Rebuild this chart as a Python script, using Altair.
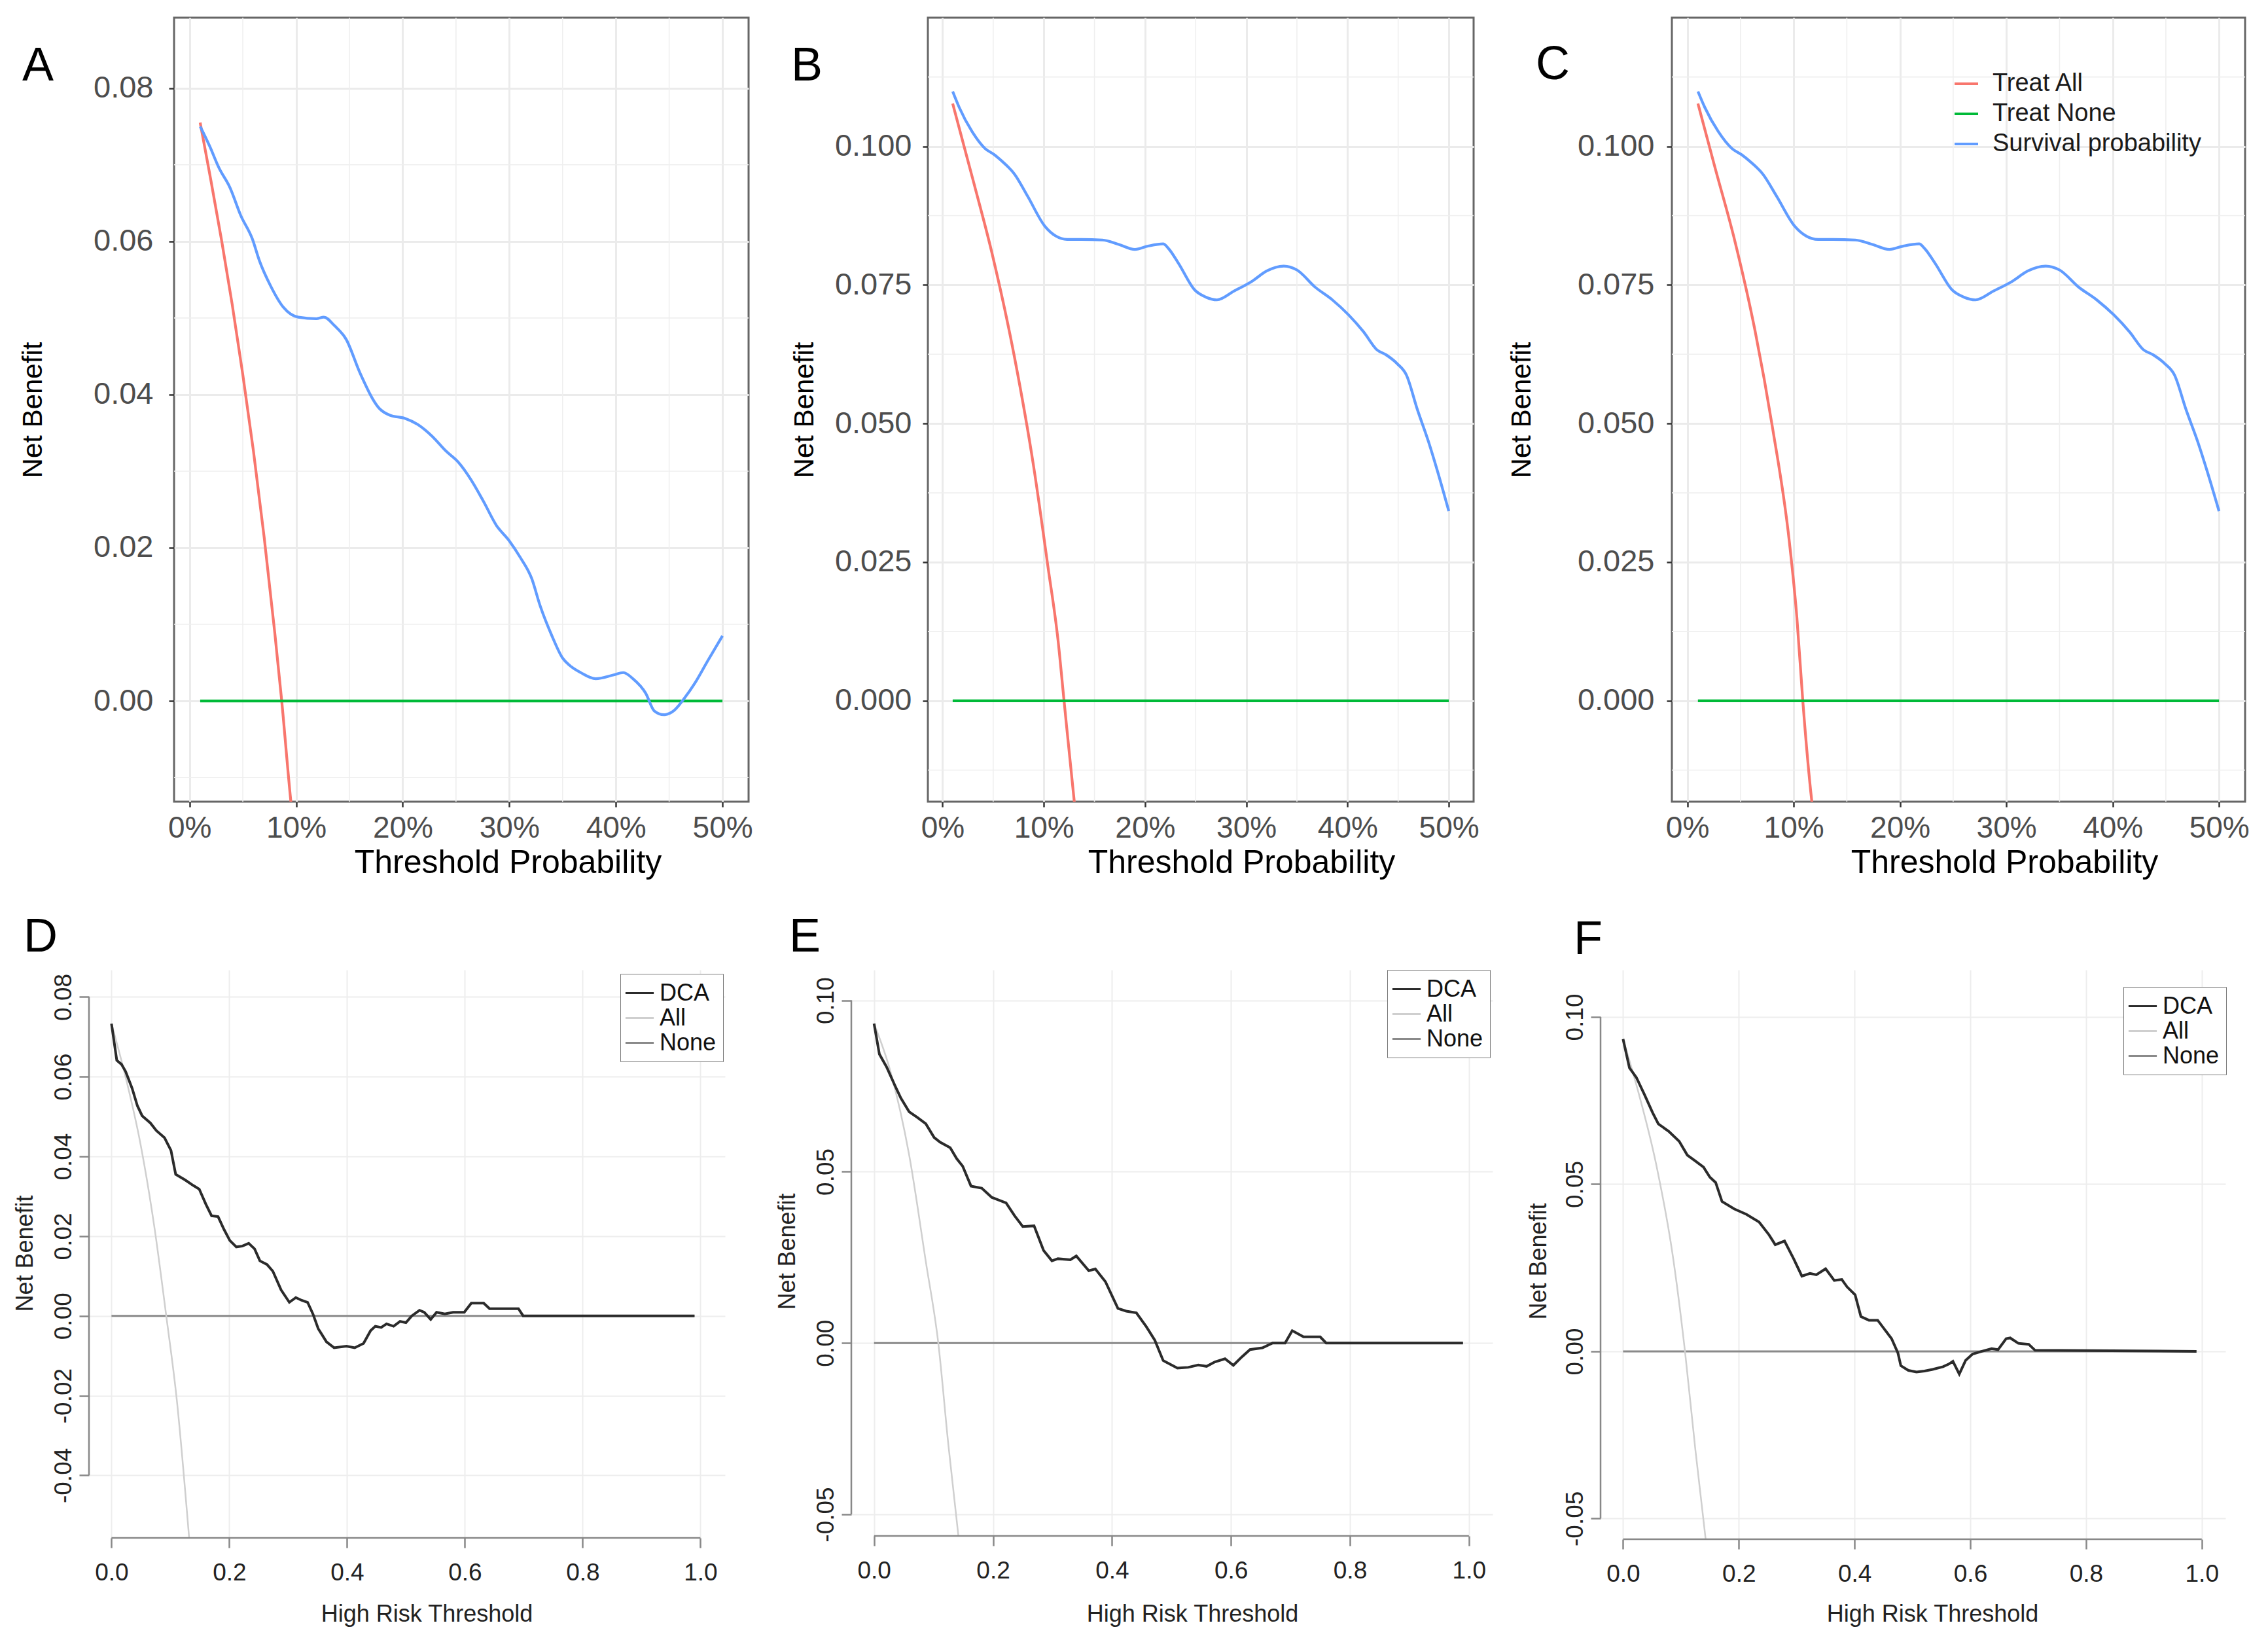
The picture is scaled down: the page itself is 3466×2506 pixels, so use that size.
import altair as alt
import pandas as pd

FONT = "Liberation Sans"

# ---------------- Panel A (ggplot DCA) ----------------
a_all_x = [0.01, 0.02, 0.03, 0.04, 0.05, 0.06, 0.07, 0.08, 0.0865, 0.095, 0.0956]
a_all_y = [0.0755, 0.0680, 0.0602, 0.0518, 0.0426, 0.0326, 0.0214, 0.0089, 0.0000, -0.0130, -0.0138]
a_none_x = [0.01, 0.50]
a_none_y = [0.0, 0.0]
a_surv_x = [0.010, 0.019, 0.0276, 0.038, 0.048, 0.059, 0.0655, 0.076, 0.088, 0.102, 0.119, 0.126,
            0.136, 0.147, 0.160, 0.178, 0.188, 0.202, 0.214, 0.228, 0.240, 0.252, 0.264, 0.276,
            0.288, 0.300, 0.310, 0.321, 0.329, 0.340, 0.350, 0.357, 0.367, 0.381, 0.398, 0.407,
            0.416, 0.428, 0.436, 0.445, 0.455, 0.464, 0.474, 0.486, 0.500]
a_surv_y = [0.0750, 0.0724, 0.0696, 0.0670, 0.0634, 0.0603, 0.0575, 0.0542, 0.0514, 0.0501, 0.0499, 0.0501,
            0.0490, 0.0472, 0.0428, 0.0382, 0.0373, 0.0369, 0.0361, 0.0345, 0.0327, 0.0312, 0.0289, 0.0260,
            0.0229, 0.0209, 0.0188, 0.0160, 0.0124, 0.0085, 0.0056, 0.0046, 0.0037, 0.0029, 0.0034, 0.0037,
            0.0029, 0.0010, -0.0013, -0.0018, -0.0012, 0.0003, 0.0023, 0.0052, 0.0085]

# ---------------- Panel B ----------------
b_all_x = [0.01, 0.031, 0.049, 0.071, 0.090, 0.104, 0.114, 0.120, 0.130, 0.1306]
b_all_y = [0.1077, 0.0933, 0.0806, 0.0620, 0.0422, 0.0243, 0.0110, 0.0000, -0.0180, -0.0190]
b_none_x = [0.01, 0.50]
b_none_y = [0.0, 0.0]
b_surv_x = [0.010, 0.0165, 0.029, 0.042, 0.051, 0.060, 0.071, 0.084, 0.101, 0.112, 0.123, 0.137, 0.158,
            0.174, 0.190, 0.203, 0.218, 0.223, 0.233, 0.249, 0.260, 0.271, 0.288, 0.306, 0.320, 0.337,
            0.350, 0.368, 0.385, 0.401, 0.416, 0.429, 0.438, 0.449, 0.458, 0.469, 0.480, 0.489, 0.500]
b_surv_y = [0.1099, 0.1070, 0.1027, 0.0996, 0.0985, 0.0971, 0.0950, 0.0910, 0.0856, 0.0838, 0.0832, 0.0832, 0.0831,
            0.0823, 0.0814, 0.0820, 0.0824, 0.0816, 0.0789, 0.0741, 0.0728, 0.0723, 0.0739, 0.0757, 0.0775, 0.0784,
            0.0777, 0.0746, 0.0723, 0.0696, 0.0665, 0.0633, 0.0624, 0.0608, 0.0588, 0.0525, 0.0467, 0.0413, 0.0342]

# ---------------- Panel C ----------------
c_all_x = [0.01, 0.026, 0.045, 0.063, 0.080, 0.096, 0.103, 0.1086, 0.117, 0.1176]
c_all_y = [0.1077, 0.0962, 0.0827, 0.0674, 0.0494, 0.0286, 0.0151, 0.0000, -0.0180, -0.0190]
c_none_x = [0.01, 0.50]
c_none_y = [0.0, 0.0]
c_surv_x = [0.010, 0.0165, 0.029, 0.042, 0.051, 0.060, 0.071, 0.084, 0.101, 0.112, 0.123, 0.137, 0.158,
            0.174, 0.190, 0.203, 0.218, 0.223, 0.233, 0.249, 0.260, 0.271, 0.288, 0.306, 0.320, 0.337,
            0.350, 0.368, 0.385, 0.401, 0.416, 0.429, 0.438, 0.449, 0.458, 0.469, 0.480, 0.489, 0.500]
c_surv_y = [0.1099, 0.1070, 0.1027, 0.0996, 0.0985, 0.0971, 0.0950, 0.0910, 0.0856, 0.0838, 0.0832, 0.0832, 0.0831,
            0.0823, 0.0814, 0.0820, 0.0824, 0.0816, 0.0789, 0.0741, 0.0728, 0.0723, 0.0739, 0.0757, 0.0775, 0.0784,
            0.0777, 0.0746, 0.0723, 0.0696, 0.0665, 0.0633, 0.0624, 0.0608, 0.0588, 0.0525, 0.0467, 0.0413, 0.0342]

# ---------------- Panel D (rmda style) ----------------
d_dca_x = [0.000, 0.009, 0.017, 0.024, 0.035, 0.044, 0.052, 0.066, 0.076, 0.090, 0.101, 0.109, 0.125, 0.139,
           0.149, 0.160, 0.170, 0.181, 0.191, 0.201, 0.212, 0.222, 0.233, 0.243, 0.252, 0.264, 0.274, 0.288,
           0.302, 0.313, 0.323, 0.333, 0.342, 0.351, 0.365, 0.378, 0.399, 0.413, 0.428, 0.440, 0.448, 0.458,
           0.467, 0.479, 0.490, 0.500, 0.510, 0.523, 0.531, 0.542, 0.552, 0.566, 0.580, 0.599, 0.611, 0.632,
           0.642, 0.691, 0.699, 0.990]
d_dca_y = [0.0733, 0.0641, 0.0631, 0.0613, 0.0571, 0.0527, 0.0502, 0.0484, 0.0465, 0.0447, 0.0415, 0.0355, 0.0341, 0.0327,
           0.0318, 0.0281, 0.0251, 0.0249, 0.0217, 0.0189, 0.0173, 0.0175, 0.0182, 0.0168, 0.0138, 0.0129, 0.0112, 0.0065,
           0.0034, 0.0046, 0.0039, 0.0034, 0.0005, -0.0032, -0.0065, -0.0080, -0.0076, -0.0080, -0.0069, -0.0037, -0.0026, -0.0029,
           -0.0020, -0.0026, -0.0014, -0.0017, 0.0000, 0.0014, 0.0009, -0.0009, 0.0009, 0.0005, 0.0009, 0.0009, 0.0032, 0.0032,
           0.0018, 0.0018, 0.0000, 0.0000]
d_all_x = [0.0, 0.024, 0.049, 0.073, 0.093, 0.111, 0.132]
d_all_y = [0.0733, 0.0599, 0.0433, 0.0221, 0.0000, -0.0212, -0.0560]
d_none_x = [0.0, 0.99]
d_none_y = [0.0, 0.0]

# ---------------- Panel E ----------------
e_dca_x = [0.000, 0.009, 0.021, 0.035, 0.045, 0.059, 0.073, 0.087, 0.101, 0.111, 0.128, 0.139, 0.149, 0.163,
           0.181, 0.198, 0.222, 0.236, 0.250, 0.269, 0.285, 0.299, 0.309, 0.330, 0.340, 0.361, 0.372, 0.389,
           0.410, 0.424, 0.441, 0.458, 0.472, 0.486, 0.510, 0.528, 0.545, 0.559, 0.573, 0.590, 0.604, 0.618,
           0.632, 0.653, 0.670, 0.691, 0.703, 0.722, 0.750, 0.760, 0.990]
e_dca_y = [0.0932, 0.0843, 0.0806, 0.0752, 0.0715, 0.0675, 0.0658, 0.0640, 0.0600, 0.0586, 0.0570, 0.0538, 0.0516, 0.0458,
           0.0452, 0.0425, 0.0409, 0.0372, 0.0340, 0.0342, 0.0270, 0.0240, 0.0246, 0.0243, 0.0254, 0.0211, 0.0216, 0.0179,
           0.0101, 0.0093, 0.0088, 0.0047, 0.0008, -0.0051, -0.0073, -0.0071, -0.0064, -0.0068, -0.0055, -0.0046, -0.0065, -0.0041,
           -0.0019, -0.0014, 0.0000, 0.0000, 0.0036, 0.0018, 0.0018, 0.0000, 0.0000]
e_all_x = [0.0, 0.028, 0.059, 0.087, 0.108, 0.125, 0.142]
e_all_y = [0.0932, 0.0790, 0.0549, 0.0238, 0.0000, -0.0298, -0.0566]
e_none_x = [0.0, 0.99]
e_none_y = [0.0, 0.0]

# ---------------- Panel F ----------------
f_dca_x = [0.000, 0.011, 0.023, 0.037, 0.051, 0.061, 0.079, 0.097, 0.111, 0.125, 0.139, 0.150, 0.160, 0.171,
           0.192, 0.213, 0.235, 0.252, 0.263, 0.279, 0.295, 0.309, 0.323, 0.334, 0.350, 0.365, 0.378, 0.387,
           0.401, 0.411, 0.425, 0.440, 0.450, 0.464, 0.475, 0.480, 0.493, 0.507, 0.521, 0.535, 0.553, 0.563,
           0.570, 0.581, 0.592, 0.604, 0.620, 0.637, 0.648, 0.662, 0.669, 0.683, 0.701, 0.712, 0.991]
f_dca_y = [0.0934, 0.0848, 0.0819, 0.0768, 0.0714, 0.0680, 0.0658, 0.0628, 0.0587, 0.0569, 0.0551, 0.0521, 0.0505, 0.0448,
           0.0426, 0.0410, 0.0387, 0.0349, 0.0319, 0.0330, 0.0276, 0.0225, 0.0233, 0.0229, 0.0247, 0.0212, 0.0215, 0.0193,
           0.0169, 0.0104, 0.0093, 0.0093, 0.0070, 0.0038, -0.0005, -0.0043, -0.0057, -0.0062, -0.0059, -0.0054, -0.0046, -0.0038,
           -0.0030, -0.0068, -0.0027, -0.0008, 0.0000, 0.0008, 0.0005, 0.0038, 0.0040, 0.0024, 0.0021, 0.0003, 0.0000]
f_all_x = [0.0, 0.026, 0.058, 0.086, 0.107, 0.125, 0.143]
f_all_y = [0.0934, 0.0778, 0.0553, 0.0285, 0.0000, -0.0295, -0.0566]
f_none_x = [0.0, 0.99]
f_none_y = [0.0, 0.0]

# ---------------- categories, ticks, colours ----------------
SERIES_TOP = ["Treat All", "Treat None", "Survival probability"]
COLORS_TOP = ["#F8766D", "#00BA38", "#619CFF"]
SERIES_BOT = ["DCA", "All", "None"]
COLORS_BOT = ["#2B2B2B", "#CFCFCF", "#8A8A8A"]

TOP_XDOM = [-0.0145, 0.5245]
TOP_XMAJOR = [0.0, 0.1, 0.2, 0.3, 0.4, 0.5]
TOP_XMINOR = [0.05, 0.15, 0.25, 0.35, 0.45]
A_YDOM = [-0.01315, 0.0892]
A_YMAJOR = [0.0, 0.02, 0.04, 0.06, 0.08]
A_YMINOR = [-0.01, 0.01, 0.03, 0.05, 0.07]
BC_YDOM = [-0.0182, 0.1232]
BC_YMAJOR = [0.0, 0.025, 0.05, 0.075, 0.1]
BC_YMINOR = [-0.0125, 0.0125, 0.0375, 0.0625, 0.0875, 0.1125]

BOT_XVALS = [0.0, 0.2, 0.4, 0.6, 0.8, 1.0]
BOT_XLINE = [0.0, 1.0]
D_YVALS = [-0.04, -0.02, 0.0, 0.02, 0.04, 0.06, 0.08]
D_YLINE = [-0.04, 0.08]
EF_YVALS = [-0.05, 0.0, 0.05, 0.10]
EF_YLINE = [-0.05, 0.10]

TOP_H = 1198
ROW_GAP = 257


def spacer(w, h):
    return alt.Chart(pd.DataFrame({"s": [0]})).mark_point(opacity=0).encode(
        x=alt.X("s:Q", axis=None), y=alt.Y("s:Q", axis=None)
    ).properties(width=w, height=h)


def letter(text, px, py):
    return alt.Chart(pd.DataFrame({"t": [text]})).mark_text(
        align="left", baseline="alphabetic", fontSize=72, font=FONT, color="#000000"
    ).encode(text="t:N", x=alt.value(px), y=alt.value(py))


def top_panel(name, series, ydom, ymajor, yminor, yfmt, width, ytx, xtx, lxy, ypad, legend_xy=None):
    df = pd.concat([pd.DataFrame({"x": xs, "y": ys, "series": s}) for s, xs, ys in series],
                   ignore_index=True)
    xscale = alt.Scale(domain=TOP_XDOM, nice=False, zero=False)
    yscale = alt.Scale(domain=ydom, nice=False, zero=False)
    xaxis = alt.Axis(
        values=TOP_XMAJOR, format=".0%",
        domain=False, grid=True, gridColor="#EBEBEB", gridWidth=3,
        tickColor="#333333", tickWidth=2.5, tickSize=8,
        labelFont=FONT, labelFontSize=46, labelColor="#4D4D4D", labelPadding=10,
        labelFlush=False, labelOverlap=False,
        title="Threshold Probability", titleFont=FONT, titleFontSize=50, titleFontWeight="normal",
        titleColor="#000000", titleX=xtx, titleY=93, titleAlign="center", titleBaseline="middle",
    )
    yaxis = alt.Axis(
        values=ymajor, format=yfmt,
        domain=False, grid=True, gridColor="#EBEBEB", gridWidth=3,
        tickColor="#333333", tickWidth=2.5, tickSize=8,
        labelFont=FONT, labelFontSize=47, labelColor="#4D4D4D", labelPadding=ypad,
        labelOverlap=False,
        title="Net Benefit", titleFont=FONT, titleFontSize=42, titleFontWeight="normal",
        titleColor="#000000", titleX=ytx, titleY=599, titleAngle=270, titleAlign="center",
        titleBaseline="middle",
    )
    if legend_xy is not None:
        legend = alt.Legend(orient="none", legendX=legend_xy[0], legendY=legend_xy[1], title=None,
                            labelFont=FONT, labelFontSize=38, labelColor="#1A1A1A", labelLimit=2000,
                            symbolType="stroke", symbolSize=1296, symbolStrokeWidth=4,
                            labelOffset=20, rowPadding=7, padding=0)
    else:
        legend = None

    vminor = alt.Chart(pd.DataFrame({"x": TOP_XMINOR})).mark_rule(color="#EFEFEF", strokeWidth=1.6).encode(
        x=alt.X("x:Q", scale=xscale, axis=xaxis))
    hminor = alt.Chart(pd.DataFrame({"y": yminor})).mark_rule(color="#EFEFEF", strokeWidth=1.6).encode(
        y=alt.Y("y:Q", scale=yscale, axis=yaxis))
    lines = alt.Chart(df).mark_line(strokeWidth=4.2, clip=True, interpolate="monotone").encode(
        x=alt.X("x:Q", scale=xscale, axis=xaxis),
        y=alt.Y("y:Q", scale=yscale, axis=yaxis),
        color=alt.Color("series:N", scale=alt.Scale(domain=SERIES_TOP, range=COLORS_TOP), legend=legend),
    )
    return alt.layer(vminor, hminor, lines, letter(name, lxy[0], lxy[1])).properties(
        width=width, height=TOP_H,
        view=alt.ViewBackground(stroke="#666666", strokeWidth=3),
    )


def bottom_panel(name, dca, allc, nonec, xdom, ydom, yvals, yline, width, height,
                 ytitle, xtitle, legend_xy, lxy):
    xscale = alt.Scale(domain=xdom, nice=False, zero=False)
    yscale = alt.Scale(domain=ydom, nice=False, zero=False)
    xaxis = alt.Axis(
        values=BOT_XVALS, format=".1f", domain=False, grid=True, gridColor="#EDEDED", gridWidth=2,
        tickColor="#888888", tickWidth=2.5, tickSize=15,
        labelFont=FONT, labelFontSize=37, labelColor="#222222", labelPadding=20,
        labelFlush=False, labelOverlap=False,
        title="High Risk Threshold", titleFont=FONT, titleFontSize=36, titleFontWeight="normal",
        titleColor="#222222", titleX=xtitle[0], titleY=xtitle[1], titleAlign="center",
        titleBaseline="middle",
    )
    yaxis = alt.Axis(
        values=yvals,
        labelExpr="datum.value < 0 ? '-' + format(-datum.value, '.2f') : format(datum.value, '.2f')",
        domain=False, grid=True, gridColor="#EDEDED", gridWidth=2,
        tickColor="#888888", tickWidth=2.5, tickSize=15,
        labelFont=FONT, labelFontSize=37, labelColor="#222222", labelPadding=13,
        labelAngle=270, labelAlign="center", labelBaseline="alphabetic", labelOverlap=False,
        title="Net Benefit", titleFont=FONT, titleFontSize=36, titleFontWeight="normal",
        titleColor="#222222", titleX=ytitle[0], titleY=ytitle[1], titleAngle=270,
        titleAlign="center", titleBaseline="middle",
    )
    legend = alt.Legend(orient="none", legendX=legend_xy[0], legendY=legend_xy[1], title=None,
                        strokeColor="#777777", fillColor="#FFFFFF", padding=10,
                        labelFont=FONT, labelFontSize=36, labelColor="#111111", labelLimit=2000,
                        symbolType="M-1.2,0H1.2", symbolSize=1296, symbolStrokeWidth=3,
                        labelOffset=11, rowPadding=-3)
    color = alt.Color("series:N", scale=alt.Scale(domain=SERIES_BOT, range=COLORS_BOT), legend=legend)

    def line(xs, ys, s, sw, interp):
        df = pd.DataFrame({"x": xs, "y": ys, "series": s})
        return alt.Chart(df).mark_line(strokeWidth=sw, clip=True, interpolate=interp).encode(
            x=alt.X("x:Q", scale=xscale, axis=xaxis),
            y=alt.Y("y:Q", scale=yscale, axis=yaxis),
            color=color,
        )

    xrule = alt.Chart(pd.DataFrame({"x": [BOT_XLINE[0]], "x2": [BOT_XLINE[1]], "y": [ydom[0]]})).mark_rule(
        color="#888888", strokeWidth=2.5).encode(
        x=alt.X("x:Q", scale=xscale, axis=xaxis), x2="x2:Q",
        y=alt.Y("y:Q", scale=yscale, axis=yaxis))
    yrule = alt.Chart(pd.DataFrame({"x": [xdom[0]], "y": [yline[0]], "y2": [yline[1]]})).mark_rule(
        color="#888888", strokeWidth=2.5).encode(
        x=alt.X("x:Q", scale=xscale, axis=xaxis),
        y=alt.Y("y:Q", scale=yscale, axis=yaxis), y2="y2:Q")

    return alt.layer(
        line(nonec[0], nonec[1], "None", 3, "linear"),
        line(allc[0], allc[1], "All", 2.5, "monotone"),
        line(dca[0], dca[1], "DCA", 4, "linear"),
        xrule, yrule, letter(name, lxy[0], lxy[1]),
    ).properties(width=width, height=height)


pa = top_panel("A", [("Treat All", a_all_x, a_all_y), ("Treat None", a_none_x, a_none_y),
                     ("Survival probability", a_surv_x, a_surv_y)],
               A_YDOM, A_YMAJOR, A_YMINOR, ".2f", 878, -216, 510, (-232, 96), 24)
pb = top_panel("B", [("Treat All", b_all_x, b_all_y), ("Treat None", b_none_x, b_none_y),
                     ("Survival probability", b_surv_x, b_surv_y)],
               BC_YDOM, BC_YMAJOR, BC_YMINOR, ".3f", 834, -189, 479, (-209, 96), 17)
pc = top_panel("C", [("Treat All", c_all_x, c_all_y), ("Treat None", c_none_x, c_none_y),
                     ("Survival probability", c_surv_x, c_surv_y)],
               BC_YDOM, BC_YMAJOR, BC_YMINOR, ".3f", 876, -230, 508, (-208, 94), 19, legend_xy=(430, 81))

pd_ = bottom_panel("D", (d_dca_x, d_dca_y), (d_all_x, d_all_y), (d_none_x, d_none_y),
                   [-0.0382, 1.0418], [-0.0557, 0.0868], D_YVALS, D_YLINE, 972, 868,
                   (-98, 433), (516, 116), (812, 6), (-100, -28))
pe = bottom_panel("E", (e_dca_x, e_dca_y), (e_all_x, e_all_y), (e_none_x, e_none_y),
                  [-0.0382, 1.0398], [-0.0563, 0.1089], EF_YVALS, EF_YLINE, 980, 865,
                  (-98, 430), (521, 119), (819, 0), (-95, -28))
pf = bottom_panel("F", (f_dca_x, f_dca_y), (f_all_x, f_all_y), (f_none_x, f_none_y),
                  [-0.0389, 1.041], [-0.0562, 0.1141], EF_YVALS, EF_YLINE, 955, 870,
                  (-95, 445), (507, 114), (799, 26), (-41, -24))

top_row = alt.hconcat(
    spacer(257, TOP_H), pa, spacer(274, TOP_H), pb, spacer(303, TOP_H), pc,
    spacing=0, bounds="flush",
).resolve_scale(x="independent", y="independent", color="independent")

bottom_row = alt.hconcat(
    spacer(127, 865), pd_, spacer(193, 865), pe, spacer(165, 865), pf,
    spacing=0, bounds="flush",
).resolve_scale(x="independent", y="independent", color="independent")

# nested rows count as zero-height under flush bounds, so the gap includes the top row height
chart = alt.vconcat(top_row, bottom_row, spacing=TOP_H + ROW_GAP, bounds="flush").resolve_scale(
    x="independent", y="independent", color="independent"
).properties(
    padding={"left": 0, "top": 16, "right": 10, "bottom": 10},
    background="#FFFFFF",
).configure_view(stroke="transparent")

chart.save("out.html", embed_options={"renderer": "svg", "actions": False})
